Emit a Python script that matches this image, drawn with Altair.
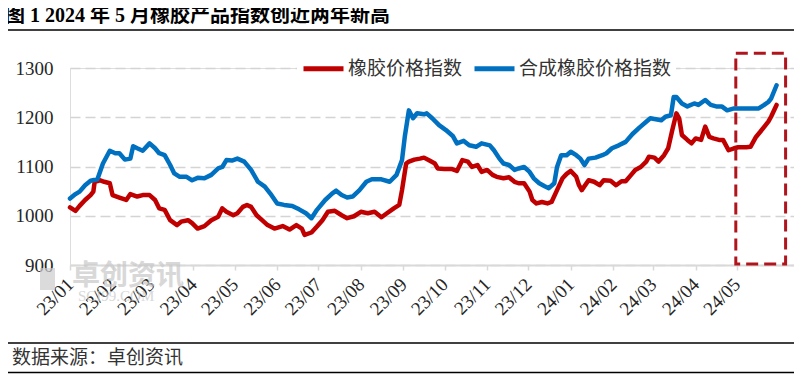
import altair as alt
import pandas as pd

# ---------------- data ----------------
# day offsets counted from 2023-01-01, and index values
rubber_days = [0, 4, 7, 11, 15, 17, 18, 22, 25, 29, 31, 36, 41, 44, 49, 53, 58, 62, 65, 69,
               73, 78, 81, 86, 89, 93, 98, 103, 108, 111, 114, 119, 122, 126, 129, 132, 136, 140, 144, 149,
               155, 160, 165, 169, 171, 176, 180, 184, 188, 193, 198, 202, 207, 212, 217, 222, 227, 231, 236, 240,
               242, 245, 247, 251, 255, 258, 262, 266, 268, 273, 278, 282, 286, 290, 293, 297, 300, 304, 308, 311,
               316, 320, 324, 327, 331, 335, 337, 340, 344, 348, 351, 355, 359, 362, 365, 369, 371, 373, 378, 382,
               386, 389, 394, 398, 402, 405, 409, 412, 416, 420, 422, 426, 429, 433, 436, 439, 442, 444, 446, 450,
               453, 456, 460, 463, 466, 469, 473, 476, 480, 484, 487, 493, 496, 500, 503, 507, 509, 511, 515]
rubber_vals = [1017, 1010, 1020, 1032, 1042, 1049, 1069, 1072, 1069, 1066, 1042, 1037, 1032, 1044, 1039, 1042, 1042, 1032, 1015, 1012,
               991, 981, 988, 991, 985, 974, 979, 991, 998, 1015, 1008, 1001, 1005, 1018, 1022, 1018, 1001, 991, 981, 974,
               979, 972, 981, 974, 961, 966, 978, 991, 1008, 1010, 1001, 995, 999, 1008, 1005, 1008, 997, 1005, 1015, 1022,
               1052, 1106, 1110, 1114, 1116, 1118, 1112, 1106, 1096, 1095, 1095, 1091, 1113, 1110, 1099, 1103, 1089, 1093, 1083, 1079,
               1076, 1078, 1069, 1066, 1066, 1049, 1032, 1025, 1028, 1025, 1028, 1052, 1076, 1085, 1091, 1079, 1062, 1052, 1072, 1069,
               1062, 1072, 1071, 1062, 1070, 1070, 1083, 1093, 1099, 1110, 1120, 1118, 1110, 1123, 1137, 1174, 1208, 1198, 1164, 1154,
               1147, 1157, 1154, 1181, 1160, 1157, 1154, 1154, 1133, 1137, 1139, 1139, 1140, 1160, 1170, 1184, 1191, 1201, 1225]

synth_days = [0, 4, 7, 11, 15, 20, 24, 29, 33, 36, 40, 44, 46, 49, 53, 58, 62, 65, 69, 73,
              76, 80, 85, 89, 93, 98, 103, 108, 111, 114, 118, 122, 127, 132, 137, 142, 146, 151, 156, 162,
              167, 172, 176, 180, 186, 191, 194, 198, 202, 206, 211, 216, 220, 227, 233, 238, 242, 244, 247, 250,
              253, 258, 260, 264, 269, 274, 279, 282, 287, 291, 296, 300, 306, 309, 313, 316, 320, 324, 327, 331,
              335, 338, 342, 346, 349, 353, 355, 358, 362, 365, 369, 372, 375, 378, 383, 388, 391, 395, 400, 405,
              410, 415, 420, 423, 427, 431, 434, 438, 440, 442, 446, 450, 455, 458, 463, 467, 471, 475, 479, 484,
              490, 496, 502, 506, 509, 511, 515]
synth_vals = [1035, 1044, 1049, 1062, 1071, 1074, 1106, 1132, 1127, 1127, 1114, 1116, 1141, 1137, 1132, 1147, 1137, 1127, 1123, 1103,
              1086, 1079, 1079, 1072, 1077, 1076, 1083, 1096, 1099, 1113, 1112, 1116, 1110, 1093, 1069, 1059, 1045, 1025, 1022, 1020,
              1013, 1005, 995, 1012, 1032, 1045, 1051, 1042, 1037, 1039, 1052, 1069, 1074, 1074, 1069, 1083, 1113, 1160, 1214, 1198,
              1208, 1206, 1208, 1198, 1184, 1174, 1162, 1147, 1152, 1143, 1140, 1147, 1143, 1133, 1116, 1106, 1103, 1093, 1096, 1099,
              1089, 1076, 1066, 1060, 1056, 1066, 1099, 1123, 1123, 1130, 1123, 1116, 1103, 1116, 1118, 1123, 1127, 1137, 1143, 1150,
              1166, 1179, 1191, 1198, 1196, 1194, 1201, 1204, 1241, 1241, 1228, 1222, 1228, 1225, 1235, 1225, 1222, 1222, 1214, 1218,
              1218, 1218, 1218, 1225, 1231, 1238, 1265]

series_names = ["橡胶价格指数", "合成橡胶价格指数"]
series_colors = ["#C00000", "#0070C0"]
y_ticks = [900, 1000, 1100, 1200, 1300]
month_ticks = [(2023, m) for m in range(1, 13)] + [(2024, m) for m in range(1, 6)]
title_text = "图 1 2024 年 5 月橡胶产品指数创近两年新高"
source_text = "数据来源：卓创资讯"
box_dates = ["2024-04-30T07:00:00", "2024-06-05T14:00:00"]
box_vals = [902, 1330]

# ---------------- build tables ----------------
base = pd.Timestamp("2023-01-01")
df = pd.concat([
    pd.DataFrame({"date": base + pd.to_timedelta(rubber_days, unit="D"), "value": rubber_vals, "series": series_names[0]}),
    pd.DataFrame({"date": base + pd.to_timedelta(synth_days, unit="D"), "value": synth_vals, "series": series_names[1]}),
])

x_scale = alt.Scale(domain=[alt.DateTime(year=2023, month=1, date=1),
                            alt.DateTime(year=2024, month=6, date=11, hours=17)])
y_scale = alt.Scale(domain=[900, 1300], nice=False, zero=False)

serif = "Liberation Serif"
cjk = "Noto Sans CJK SC"
txt_color = "#262626"

x_axis = alt.Axis(
    values=[alt.DateTime(year=y, month=m, date=1) for (y, m) in month_ticks],
    format="%y/%m", labelAngle=-45, labelAlign="right", labelBaseline="middle",
    labelFont=serif, labelFontSize=19, labelColor=txt_color, labelPadding=11,
    grid=False, domainColor="#d9d9d9", domainWidth=2, tickColor="#d9d9d9", tickSize=5, tickWidth=1.5,
    title=None, labelOverlap=False, labelFlush=False,
)
y_axis = alt.Axis(
    values=y_ticks, format="d", labelFont=serif, labelFontSize=19, labelColor=txt_color, labelPadding=17,
    ticks=False, domain=False, grid=True, gridDash=[10, 5], gridColor="#d4d4d4", gridWidth=1.5, title=None,
)

one = pd.DataFrame({"a": [0]})

# watermark
wm1 = alt.Chart(one).mark_text(text="卓创资讯", font=cjk, fontSize=28, fontWeight="bold", color="#c8c8c8",
                               opacity=0.7, align="left", baseline="middle").encode(x=alt.value(2), y=alt.value(209))
wm2 = alt.Chart(one).mark_text(text="SCI99.COM", font=serif, fontSize=15, color="#c8c8c8",
                               opacity=0.7, align="left", baseline="middle").encode(x=alt.value(8), y=alt.value(228))
wm3 = alt.Chart(one).mark_rect(color="#cccccc", opacity=0.7).encode(
    x=alt.value(-30), x2=alt.value(-15), y=alt.value(200), y2=alt.value(222))

lines = alt.Chart(df).mark_line(strokeWidth=4.5, strokeJoin="round", strokeCap="round").encode(
    x=alt.X("date:T", scale=x_scale, axis=x_axis),
    y=alt.Y("value:Q", scale=y_scale, axis=y_axis),
    color=alt.Color("series:N", sort=series_names,
                    scale=alt.Scale(domain=series_names, range=series_colors),
                    legend=alt.Legend(orient="none", legendX=227, legendY=-26, direction="horizontal",
                                      title=None, symbolType="stroke", symbolSize=1600, symbolStrokeWidth=5,
                                      labelFont=cjk, labelFontSize=19, labelColor="#333333", labelOffset=2,
                                      columnPadding=1, padding=4, fillColor="white")),
)

box_df = pd.DataFrame({"x": [pd.Timestamp(box_dates[0])], "x2": [pd.Timestamp(box_dates[1])],
                       "y": [box_vals[0]], "y2": [box_vals[1]]})
box = alt.Chart(box_df).mark_rect(filled=False, stroke="#B0141C", strokeWidth=3, strokeDash=[12, 6]).encode(
    x="x:T", x2="x2:T", y="y:Q", y2="y2:Q")

title = alt.Chart(one).mark_text(text=title_text, font=serif + ", " + cjk, fontSize=20, fontWeight="bold",
                                 color="#000000", align="left", baseline="middle").encode(
    x=alt.value(-65), y=alt.value(-52))
rule_top = alt.Chart(one).mark_rule(color="#000000", strokeWidth=1.5).encode(
    x=alt.value(-68), x2=alt.value(724), y=alt.value(-38))
rule_mid = alt.Chart(one).mark_rule(color="#000000", strokeWidth=1.5).encode(
    x=alt.value(-68), x2=alt.value(724), y=alt.value(275))
rule_bot = alt.Chart(one).mark_rule(color="#000000", strokeWidth=1.5).encode(
    x=alt.value(-68), x2=alt.value(724), y=alt.value(304.5))
source = alt.Chart(one).mark_text(text=source_text, font=cjk, fontSize=19, color="#333333",
                                  align="left", baseline="middle").encode(x=alt.value(-58), y=alt.value(290))

chart = alt.layer(wm3, wm1, wm2, lines, box, title, rule_top, rule_mid, rule_bot, source).properties(
    width=724, height=197,
    padding={"left": 62, "top": 60, "right": 0, "bottom": 109},
    autosize=alt.AutoSizeParams(type="none"),
).configure_view(stroke=None).configure(background="white")

chart.save("out.html", embed_options={"renderer": "svg", "actions": False})
